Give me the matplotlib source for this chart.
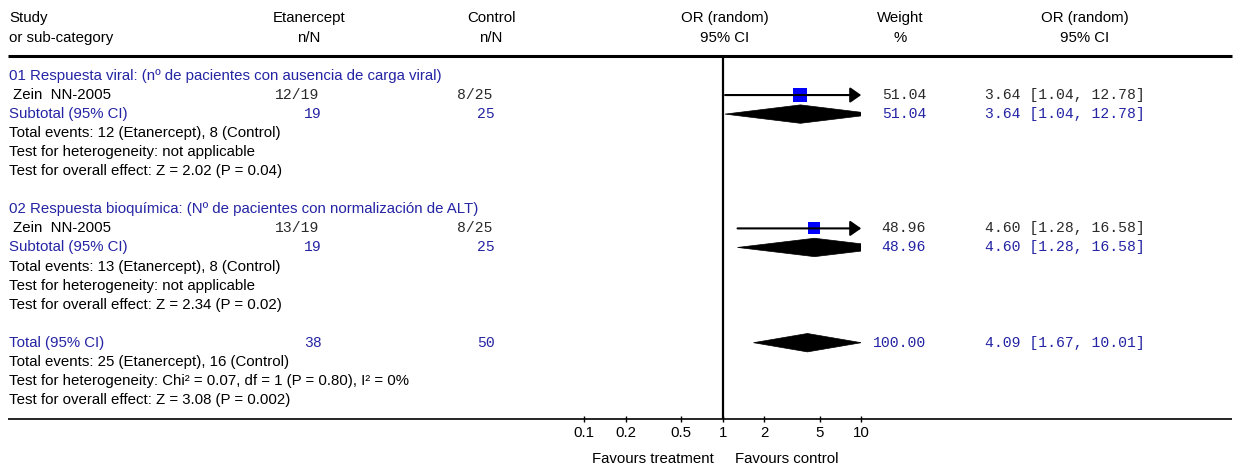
import matplotlib.pyplot as plt
from matplotlib.patches import Polygon

# ---- data ----
group_titles = ['01 Respuesta viral: (nº de pacientes con ausencia de carga viral)',
                '02 Respuesta bioquímica: (Nº de pacientes con normalización de ALT)']
study_names = ['Zein  NN-2005', 'Zein  NN-2005']
treat_events = [12, 13]
treat_total = [19, 19]
ctrl_events = [8, 8]
ctrl_total = [25, 25]
study_or = [3.64, 4.60]
study_lo = [1.04, 1.28]
study_hi = [12.78, 16.58]
study_weight = [51.04, 48.96]

sub_or = [3.64, 4.60]
sub_lo = [1.04, 1.28]
sub_hi = [12.78, 16.58]
sub_weight = [51.04, 48.96]
sub_footers = [
    ['Total events: 12 (Etanercept), 8 (Control)',
     'Test for heterogeneity: not applicable',
     'Test for overall effect: Z = 2.02 (P = 0.04)'],
    ['Total events: 13 (Etanercept), 8 (Control)',
     'Test for heterogeneity: not applicable',
     'Test for overall effect: Z = 2.34 (P = 0.02)'],
]

total_treat = 38
total_ctrl = 50
total_or = 4.09
total_lo = 1.67
total_hi = 10.01
total_weight = 100.00
total_footers = ['Total events: 25 (Etanercept), 16 (Control)',
                 'Test for heterogeneity: Chi² = 0.07, df = 1 (P = 0.80), I² = 0%',
                 'Test for overall effect: Z = 3.08 (P = 0.002)']

tick_vals = [0.1, 0.2, 0.5, 1, 2, 5, 10]
tick_labels = ['0.1', '0.2', '0.5', '1', '2', '5', '10']

# ---- layout (pixels) ----
W, H = 1240, 468
row0, row_h = 76, 19.05
top_rule, bottom_rule = 56, 419
x_study, x_trt, x_ctl, x_wt, x_or = 9, 322, 495, 926, 985
blue = '#2424A4'
dark = '#2a2a2a'
sans = 'Liberation Sans'
mono = 'Liberation Mono'
fs, fm = 10.8, 10.6

def ry(i):
    return row0 + row_h * i

fig = plt.figure(figsize=(W / 100, H / 100), dpi=100)
tax = fig.add_axes([0, 0, 1, 1])
tax.set_xlim(0, W)
tax.set_ylim(H, 0)
tax.axis('off')

# forest axis: log scale, 0.1 .. 10
fax = fig.add_axes([584.2 / W, (H - bottom_rule) / H, 277 / W, (bottom_rule - top_rule) / H])
fax.set_xscale('log')
fax.set_xlim(0.1, 10)
fax.set_ylim(bottom_rule, top_rule)
fax.patch.set_visible(False)
for s in fax.spines.values():
    s.set_visible(False)
fax.set_yticks([])
fax.set_xticks(tick_vals)
fax.set_xticklabels(tick_labels, fontfamily=sans, fontsize=fs)
fax.minorticks_off()
fax.tick_params(axis='x', direction='inout', length=5, width=1, pad=2.5)
fax.axvline(1, color='black', lw=1.6)


def txt(x, y, s, color='black', ha='left', font=sans, size=fs):
    tax.text(x, y, s, ha=ha, va='center', color=color, fontfamily=font, fontsize=size)


# header
txt(x_study, 18, 'Study')
txt(x_study, 38, 'or sub-category')
for xc, a, b in [(309, 'Etanercept', 'n/N'), (491, 'Control', 'n/N'),
                 (725, 'OR (random)', '95% CI'), (900, 'Weight', '%'),
                 (1085, 'OR (random)', '95% CI')]:
    txt(xc, 18, a, ha='center')
    txt(xc, 38, b, ha='center')
tax.plot([8, 1232], [top_rule, top_rule], color='black', lw=2.2, solid_capstyle='butt')
tax.plot([8, 1232], [bottom_rule, bottom_rule], color='black', lw=1.2, solid_capstyle='butt')


def diamond(y, est, lo, hi, h=9.2):
    fax.add_patch(Polygon([(lo, y), (est, y - h), (hi, y), (est, y + h)],
                          closed=True, facecolor='black', edgecolor='black', lw=0.5))


def ci_line(y, est, lo, hi, weight):
    fax.plot([est], [y], marker='s', markersize=9.4 * (weight / 50) ** 0.5,
             color='#0000FF', markeredgewidth=0, zorder=2)
    if hi > 10:
        fax.annotate('', xy=(10, y), xytext=(lo, y), zorder=3,
                     arrowprops=dict(arrowstyle='-|>,head_length=0.6,head_width=0.42',
                                     lw=1.5, color='black',
                                     mutation_scale=11, shrinkA=0, shrinkB=0))
    else:
        fax.plot([lo, hi], [y, y], color='black', lw=1.5, zorder=3)


for g in range(len(group_titles)):
    base = g * 7
    txt(x_study, ry(base), group_titles[g], color=blue)
    # study row
    y = ry(base + 1)
    txt(x_study + 4, y, study_names[g])
    txt(x_trt - 3, y, f'{treat_events[g]}/{treat_total[g]}', ha='right', font=mono, size=fm, color=dark)
    txt(x_ctl - 3, y, f'{ctrl_events[g]}/{ctrl_total[g]}', ha='right', font=mono, size=fm, color=dark)
    txt(x_wt, y, f'{study_weight[g]:.2f}', ha='right', font=mono, size=fm, color=dark)
    txt(x_or, y, f'{study_or[g]:.2f} [{study_lo[g]:.2f}, {study_hi[g]:.2f}]', font=mono, size=fm, color=dark)
    ci_line(y, study_or[g], study_lo[g], study_hi[g], study_weight[g])
    # subtotal row
    y = ry(base + 2)
    txt(x_study, y, 'Subtotal (95% CI)', color=blue)
    txt(x_trt, y, f'{treat_total[g]}', ha='right', font=mono, size=fm, color=blue)
    txt(x_ctl, y, f'{ctrl_total[g]}', ha='right', font=mono, size=fm, color=blue)
    txt(x_wt, y, f'{sub_weight[g]:.2f}', ha='right', font=mono, size=fm, color=blue)
    txt(x_or, y, f'{sub_or[g]:.2f} [{sub_lo[g]:.2f}, {sub_hi[g]:.2f}]', font=mono, size=fm, color=blue)
    diamond(y, sub_or[g], sub_lo[g], sub_hi[g])
    for k, line in enumerate(sub_footers[g]):
        txt(x_study, ry(base + 3 + k), line)

# overall total
y = ry(14)
txt(x_study, y, 'Total (95% CI)', color=blue)
txt(x_trt, y, f'{total_treat}', ha='right', font=mono, size=fm, color=blue)
txt(x_ctl, y, f'{total_ctrl}', ha='right', font=mono, size=fm, color=blue)
txt(x_wt, y, f'{total_weight:.2f}', ha='right', font=mono, size=fm, color=blue)
txt(x_or, y, f'{total_or:.2f} [{total_lo:.2f}, {total_hi:.2f}]', font=mono, size=fm, color=blue)
diamond(y, total_or, total_lo, total_hi)
for k, line in enumerate(total_footers):
    txt(x_study, ry(15 + k), line)

txt(652.7, 459, 'Favours treatment', ha='center')
txt(786.7, 459, 'Favours control', ha='center')

fig.savefig('out.png', dpi=100)
